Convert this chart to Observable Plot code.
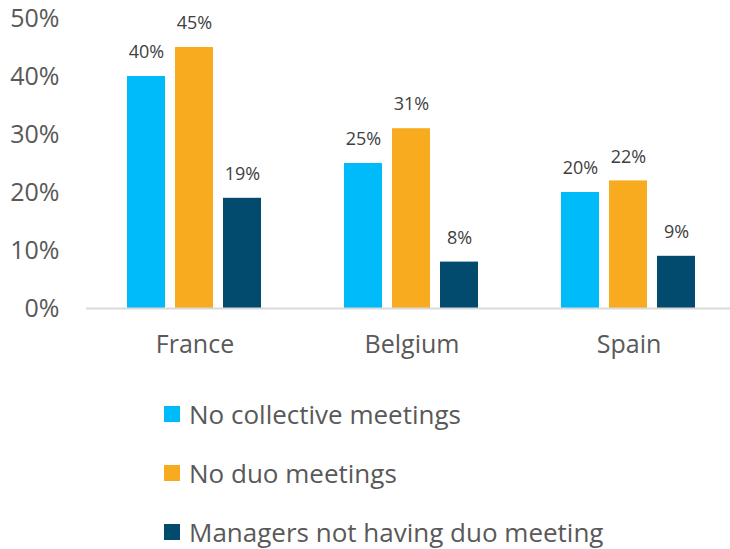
<!DOCTYPE html>
<html>
<head>
<meta charset="utf-8">
<script src="https://cdn.jsdelivr.net/npm/d3@7"></script>
<script src="https://cdn.jsdelivr.net/npm/@observablehq/plot@0.6"></script>
<style>
  body { margin: 0; background: #fff; font-family: "Open Sans", sans-serif; }
  #chart { width: 730px; height: 549px; overflow: hidden; position: relative; }
  .legend { margin-top: 14px; padding-left: 164px; }
  .legend .row { height: 59px; display: flex; align-items: center; font-size: 26px; line-height: 1; color: #595959; }
  .legend .sw { width: 16px; height: 16px; margin-right: 9px; flex: none; }
</style>
</head>
<body>
<div id="chart"></div>
<script>
const countries = ["France", "Belgium", "Spain"];
const seriesNames = ["No collective meetings", "No duo meetings", "Managers not having duo meeting"];
const noCollective = [40, 25, 20];
const noDuo = [45, 31, 22];
const managersNoDuo = [19, 8, 9];
const colors = ["#00BBF9", "#F8AB1E", "#024A6E"];
const yTicks = [0, 10, 20, 30, 40, 50];

const seriesValues = [noCollective, noDuo, managersNoDuo];
const data = [];
countries.forEach((c, i) => {
  seriesNames.forEach((s, j) => {
    data.push({country: c, series: s, value: seriesValues[j][i]});
  });
});

const plot = Plot.plot({
  width: 730,
  height: 370,
  marginTop: 18,
  marginLeft: 85,
  marginRight: -8,
  marginBottom: 62,
  style: {fontFamily: "'Open Sans', sans-serif", background: "#fff", overflow: "visible"},
  fx: {domain: countries, padding: 0, label: null},
  x: {domain: seriesNames, paddingInner: 0.208, paddingOuter: 0.85, axis: null},
  y: {domain: [0, 50], label: null},
  color: {domain: seriesNames, range: colors},
  marks: [
    Plot.axisY({ticks: yTicks, tickSize: 0, tickPadding: 27, tickFormat: d => d + "%", fontSize: 25, color: "#595959", label: null}),
    Plot.axisFx({anchor: "bottom", tickSize: 0, tickPadding: 27, fontSize: 25, color: "#595959", label: null}),
    Plot.barY(data, {fx: "country", x: "series", y: "value", fill: "series"}),
    Plot.ruleY([0], {stroke: "#D9D9D9", strokeWidth: 2}),
    Plot.text(data, {fx: "country", x: "series", y: "value", text: d => d.value + "%", dy: -24, fontSize: 18, fill: "#404040"})
  ]
});

const chart = document.getElementById("chart");
chart.appendChild(plot);

const legend = document.createElement("div");
legend.className = "legend";
seriesNames.forEach((s, j) => {
  const row = document.createElement("div");
  row.className = "row";
  const sw = document.createElement("span");
  sw.className = "sw";
  sw.style.background = colors[j];
  const t = document.createElement("span");
  t.textContent = s;
  row.appendChild(sw);
  row.appendChild(t);
  legend.appendChild(row);
});
chart.appendChild(legend);
</script>
</body>
</html>
